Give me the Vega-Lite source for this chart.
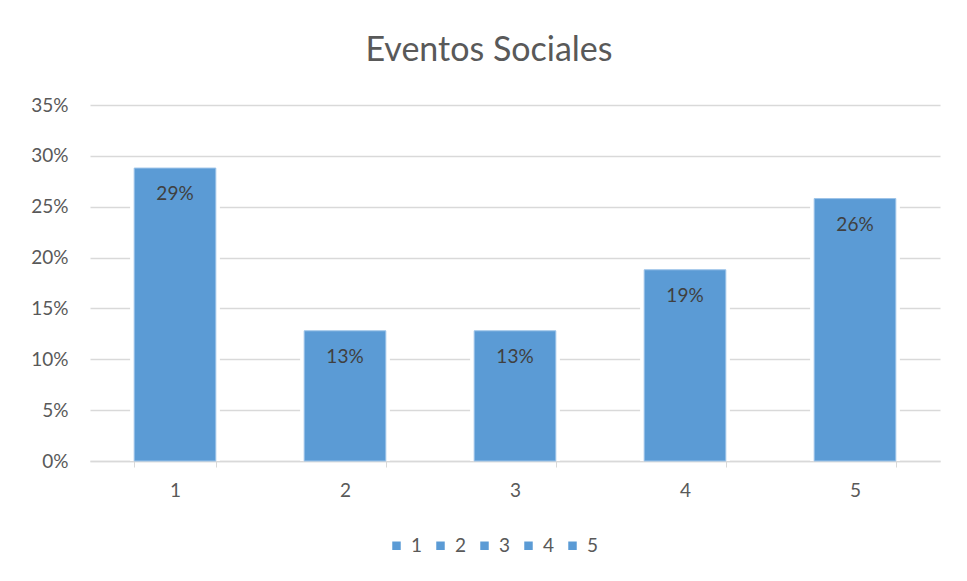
{
  "$schema": "https://vega.github.io/schema/vega-lite/v6.json",
  "width": 850,
  "height": 356,
  "autosize": {"type": "none"},
  "padding": {"left": 90, "top": 105, "right": 27, "bottom": 120},
  "background": "white",
  "title": {
    "text": "Eventos Sociales",
    "fontSize": 34,
    "font": "Lato",
    "fontWeight": "normal",
    "color": "#595959",
    "anchor": "middle",
    "dx": -26,
    "offset": 28
  },
  "data": {
    "values": [
      {"cat": "1", "pct": 0.288, "label": "29%"},
      {"cat": "2", "pct": 0.128, "label": "13%"},
      {"cat": "3", "pct": 0.128, "label": "13%"},
      {"cat": "4", "pct": 0.188, "label": "19%"},
      {"cat": "5", "pct": 0.258, "label": "26%"}
    ]
  },
  "encoding": {
    "x": {
      "field": "cat",
      "type": "nominal",
      "scale": {"paddingInner": 0.52, "paddingOuter": 0.26},
      "axis": {
        "title": null,
        "labelAngle": 0,
        "labelFont": "Lato",
        "labelFontSize": 19,
        "labelColor": "#595959",
        "labelPadding": 14,
        "ticks": true,
        "tickBand": "extent",
        "tickSize": 6,
        "tickColor": "#d9d9d9",
        "domainColor": "#d9d9d9",
        "domainWidth": 1.5,
        "grid": false
      }
    },
    "y": {
      "field": "pct",
      "type": "quantitative",
      "scale": {"domain": [0, 0.35], "nice": false},
      "axis": {
        "title": null,
        "format": ".0%",
        "values": [0, 0.05, 0.1, 0.15, 0.2, 0.25, 0.3, 0.35],
        "labelFont": "Lato",
        "labelFontSize": 19,
        "labelColor": "#595959",
        "labelPadding": 22,
        "ticks": false,
        "domain": false,
        "grid": true,
        "gridColor": "#d9d9d9",
        "gridWidth": 1.5
      }
    }
  },
  "layer": [
    {
      "mark": {"type": "bar", "color": "white", "width": {"band": 1.1}},
      "encoding": {}
    },
    {
      "mark": {"type": "bar", "stroke": "#9cc3e8", "strokeWidth": 1},
      "encoding": {
        "color": {
          "field": "cat",
          "type": "nominal",
          "scale": {"range": ["#5b9bd5", "#5b9bd5", "#5b9bd5", "#5b9bd5", "#5b9bd5"]},
          "legend": {
            "title": null,
            "orient": "none",
            "direction": "horizontal",
            "legendX": 297,
            "legendY": 431,
            "symbolType": "square",
            "symbolSize": 72,
            "symbolStrokeWidth": 0,
            "labelFont": "Lato",
            "labelFontSize": 19,
            "labelColor": "#595959",
            "labelOffset": 5,
            "columnPadding": 8
          }
        }
      }
    },
    {
      "mark": {
        "type": "text",
        "baseline": "top",
        "dy": 17,
        "font": "Lato",
        "fontSize": 19,
        "color": "#404040"
      },
      "encoding": {"text": {"field": "label"}}
    }
  ],
  "config": {"view": {"stroke": null}}
}
